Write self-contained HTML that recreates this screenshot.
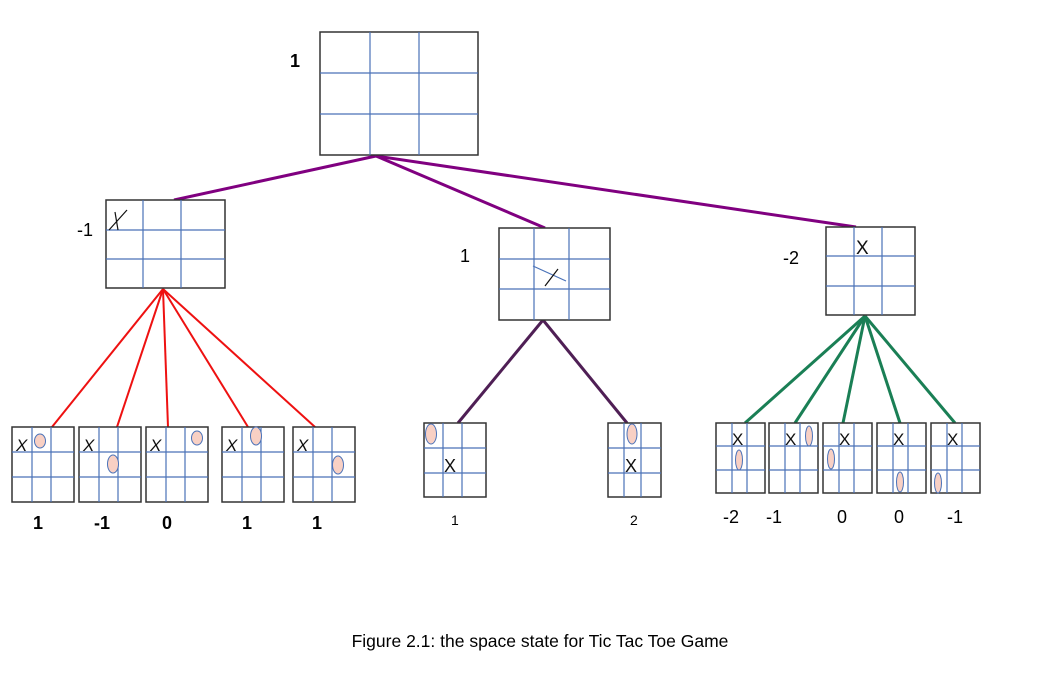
<!DOCTYPE html>
<html><head><meta charset="utf-8"><style>
html,body{margin:0;padding:0;background:#fff;}
svg{display:block;font-family:"Liberation Sans",sans-serif;}
.b{fill:#fff;stroke:#333;stroke-width:1.5}
.g{stroke:#4a72b8;stroke-width:1.2}
.o{fill:#f8d0c4;stroke:#4a72b8;stroke-width:1}
.x{stroke:#111;stroke-width:1.2}
</style></head><body>
<svg width="1044" height="688" viewBox="0 0 1044 688">
<g stroke="#800080" stroke-width="3">
<line x1="376" y1="156" x2="174" y2="200"/>
<line x1="376" y1="156" x2="545" y2="228"/>
<line x1="376" y1="156" x2="856" y2="227"/>
</g>
<g stroke="#ee1111" stroke-width="2">
<line x1="163" y1="289" x2="52" y2="427"/>
<line x1="163" y1="289" x2="117" y2="427"/>
<line x1="163" y1="289" x2="168" y2="427"/>
<line x1="163" y1="289" x2="248" y2="427"/>
<line x1="163" y1="289" x2="315" y2="427"/>
</g>
<g stroke="#4f1f55" stroke-width="3">
<line x1="543" y1="320" x2="458" y2="423"/>
<line x1="543" y1="320" x2="627" y2="423"/>
</g>
<g stroke="#1a7f55" stroke-width="3">
<line x1="865" y1="316" x2="745" y2="423"/>
<line x1="865" y1="316" x2="795" y2="423"/>
<line x1="865" y1="316" x2="843" y2="423"/>
<line x1="865" y1="316" x2="900" y2="423"/>
<line x1="865" y1="316" x2="955" y2="423"/>
</g>

<rect class="b" x="320" y="32" width="158" height="123"/>
<g class="g"><line x1="370" y1="32" x2="370" y2="155"/><line x1="419" y1="32" x2="419" y2="155"/>
<line x1="320" y1="73" x2="478" y2="73"/><line x1="320" y1="114" x2="478" y2="114"/></g>
<text x="290" y="67" font-size="18" font-weight="bold">1</text>

<rect class="b" x="106" y="200" width="119" height="88"/>
<g class="g"><line x1="143" y1="200" x2="143" y2="288"/><line x1="181" y1="200" x2="181" y2="288"/>
<line x1="106" y1="230" x2="225" y2="230"/><line x1="106" y1="259" x2="225" y2="259"/></g>
<line class="x" x1="109" y1="230" x2="127" y2="210"/><line class="x" x1="115" y1="212" x2="118" y2="230"/>
<text x="77" y="236" font-size="18">-1</text>

<rect class="b" x="499" y="228" width="111" height="92"/>
<g class="g"><line x1="534" y1="228" x2="534" y2="320"/><line x1="569" y1="228" x2="569" y2="320"/>
<line x1="499" y1="259" x2="610" y2="259"/><line x1="499" y1="289" x2="610" y2="289"/>
<line x1="533" y1="266" x2="566" y2="281"/></g>
<line class="x" x1="545" y1="286" x2="558" y2="269"/>
<text x="460" y="262" font-size="18">1</text>

<rect class="b" x="826" y="227" width="89" height="88"/>
<g class="g"><line x1="854" y1="227" x2="854" y2="315"/><line x1="882" y1="227" x2="882" y2="315"/>
<line x1="826" y1="256" x2="915" y2="256"/><line x1="826" y1="286" x2="915" y2="286"/></g>
<text x="856" y="254" font-size="19" fill="#111">X</text>
<text x="783" y="264" font-size="18">-2</text>

<g id="lb">
<rect class="b" x="12" y="427" width="62" height="75"/>
<g class="g"><line x1="32" y1="427" x2="32" y2="502"/><line x1="51" y1="427" x2="51" y2="502"/>
<line x1="12" y1="452" x2="74" y2="452"/><line x1="12" y1="477" x2="74" y2="477"/></g>
<text x="16" y="451" font-size="17" font-style="italic" fill="#111">X</text>
</g>
<use href="#lb" x="67"/><use href="#lb" x="134"/><use href="#lb" x="210"/><use href="#lb" x="281"/>
<ellipse class="o" cx="40" cy="441" rx="5.5" ry="7"/>
<ellipse class="o" cx="113" cy="464" rx="5.5" ry="9"/>
<ellipse class="o" cx="197" cy="438" rx="5.5" ry="7"/>
<ellipse class="o" cx="256" cy="436" rx="5.5" ry="9"/>
<ellipse class="o" cx="338" cy="465" rx="5.5" ry="9"/>
<g font-size="18" font-weight="bold">
<text x="33" y="529">1</text><text x="94" y="529">-1</text><text x="162" y="529">0</text>
<text x="242" y="529">1</text><text x="312" y="529">1</text></g>

<rect class="b" x="424" y="423" width="62" height="74"/>
<g class="g"><line x1="443" y1="423" x2="443" y2="497"/><line x1="462" y1="423" x2="462" y2="497"/>
<line x1="424" y1="448" x2="486" y2="448"/><line x1="424" y1="473" x2="486" y2="473"/></g>
<ellipse class="o" cx="431" cy="434" rx="5.5" ry="10"/>
<text x="444" y="472" font-size="18" fill="#111">X</text>
<rect class="b" x="608" y="423" width="53" height="74"/>
<g class="g"><line x1="624" y1="423" x2="624" y2="497"/><line x1="641" y1="423" x2="641" y2="497"/>
<line x1="608" y1="448" x2="661" y2="448"/><line x1="608" y1="473" x2="661" y2="473"/></g>
<ellipse class="o" cx="632" cy="434" rx="5" ry="10"/>
<text x="625" y="472" font-size="18" fill="#111">X</text>
<text x="451" y="525" font-size="14">1</text><text x="630" y="525" font-size="14">2</text>

<g id="rb">
<rect class="b" x="716" y="423" width="49" height="70"/>
<g class="g"><line x1="732" y1="423" x2="732" y2="493"/><line x1="747" y1="423" x2="747" y2="493"/>
<line x1="716" y1="446" x2="765" y2="446"/><line x1="716" y1="470" x2="765" y2="470"/></g>
</g>
<use href="#rb" x="53"/><use href="#rb" x="107"/><use href="#rb" x="161"/><use href="#rb" x="215"/>
<g font-size="17" fill="#111">
<text x="732" y="445">X</text><text x="785" y="445">X</text><text x="839" y="445">X</text>
<text x="893" y="445">X</text><text x="947" y="445">X</text></g>
<ellipse class="o" cx="739" cy="460" rx="3.5" ry="10"/>
<ellipse class="o" cx="809" cy="436" rx="3.5" ry="10"/>
<ellipse class="o" cx="831" cy="459" rx="3.5" ry="10"/>
<ellipse class="o" cx="900" cy="482" rx="3.5" ry="10"/>
<ellipse class="o" cx="938" cy="483" rx="3.5" ry="10"/>
<g font-size="18">
<text x="723" y="523">-2</text><text x="766" y="523">-1</text><text x="837" y="523">0</text>
<text x="894" y="523">0</text><text x="947" y="523">-1</text></g>

<text x="540" y="647" font-size="17.5" text-anchor="middle">Figure 2.1: the space state for Tic Tac Toe Game</text>
</svg>
</body></html>
